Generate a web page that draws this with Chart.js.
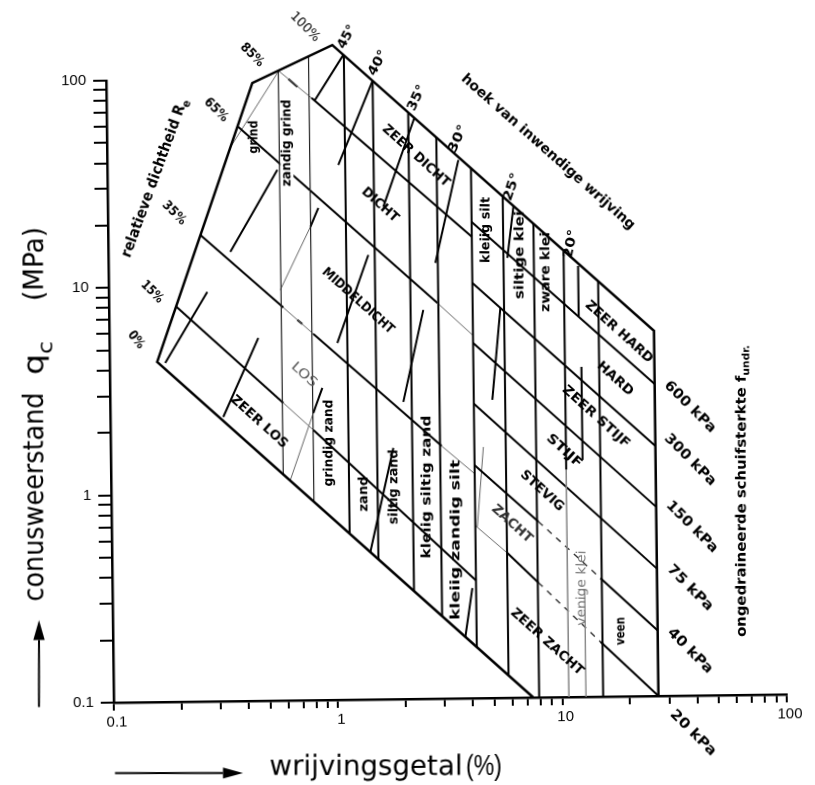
<!DOCTYPE html>
<html>
<head>
<meta charset="utf-8">
<script src="https://cdn.jsdelivr.net/npm/chart.js@4.4.1/dist/chart.umd.min.js"></script>
<style>
  html, body { margin: 0; padding: 0; background: #fff; overflow: hidden; width: 815px; height: 785px; }
  #wrap { position: absolute; left: 0; top: 0; width: 815px; height: 785px;
          transform: rotate(-0.7deg); transform-origin: 407.5px 392.5px; }
  canvas { display: block; }
</style>
</head>
<body>
<div id="wrap"><canvas id="c" width="815" height="785"></canvas></div>
<script>
// Axis ticks (friction ratio Rf in %, cone resistance qc in MPa)
const xTicks = [0.1,0.2,0.3,0.4,0.5,0.6,0.7,0.8,0.9,1,2,3,4,5,6,7,8,9,10,20,30,40,50,60,70,80,90,100];
const yTicks = [0.1,0.2,0.3,0.4,0.5,0.6,0.7,0.8,0.9,1,2,3,4,5,6,7,8,9,10,20,30,40,50,60,70,80,90,100];
const labelledTicks = [0.1, 1, 10, 100];

// Outer boundary of the classification field, [Rf, qc]
const outline = [[7.42,0.1],[0.163,4.37],[0.448,95.6],[1.023,144],[26.8,5.77],[26.8,0.1]];

// Soil-type boundaries (constant Rf): position, qc at top, qc at bottom
const gravelRf = [0.586, 0.80];
const gravelTop = [108, 128];
const gravelBottom = [1.22, 0.91];
const soilRf = [1.15, 1.54, 2.21, 2.94, 4.18, 5.77, 7.88, 10.7, 15.2];
const soilTop = [128.5, 96.4, 67.5, 51.0, 36.1, 26.2, 19.3, 14.3, 10.1];
const soilBottom = [0.633, 0.474, 0.331, 0.250, 0.177, 0.128, 0.1, 1.25, 0.1];
const peatRf = [10.7, 12.75];
const peatTop = [1.25, 0.33];
const peatBottom = [0.1, 0.1];

// Relative density lines (sand side)
const density85 = [[0.821,80.2],[4.18,16.8]];
const density65 = [[0.382,59.4],[2.91,8.10]];
const density35 = [[0.258,17.8],[0.599,7.86]];
const density35b = [[0.812,5.845],[2.986,1.654]];
const density15 = [[0.2,8.03],[0.592,2.724]];
const density15b = [[0.802,2.01],[4.18,0.37]];
const densityFaint = [
  [[0.59,108.5],[0.821,80.2]],
  [[0.599,7.86],[0.812,5.845]],
  [[0.592,2.724],[0.802,2.01]],
  [[2.91,8.10],[4.18,5.62]],
  [[2.986,1.654],[4.18,1.21]]
];
const densityDashes = [[[0.649,99.5],[0.711,90.9]], [[0.69,6.835],[0.726,6.534]]];

// Undrained shear strength lines (clay side)
const su600 = [[4.18,19.8],[26.8,3.2]];
const su300 = [[4.18,10.07],[26.8,1.606]];
const su150 = [[4.18,5.17],[26.8,0.817]];
const su75 = [[4.18,2.63],[26.8,0.4115]];
const su40 = [[4.18,1.33],[7.99,0.705]];
const su40b = [[15.0,0.373],[26.8,0.207]];
const su20 = [[5.79,0.499],[7.93,0.358]];
const su20b = [[14.87,0.184],[26.8,0.1]];
const suBroken = [[[7.99,0.705],[15.0,0.373]], [[7.93,0.358],[14.87,0.184]]];
const suFaint = [[[4.18,0.68],[5.79,0.499]]];

// Angle of internal friction segments
const phiUpper = [
  [[1.144,128.9],[0.846,77.7]],
  [[1.54,96.4],[1.072,38.0]],
  [[2.352,63.4],[1.692,23.7]],
  [[3.677,39.5],[2.867,12.64]],
  [[6.43,23.3],[6.006,13.23]],
  [[12.4,12.0],[12.4,6.85]]
];
const phiMiddle = [
  [[0.573,36.3],[0.35,14.68]],
  [[0.8685,23.65],[0.798,19.17]],
  [[1.442,13.93],[1.038,5.265]],
  [[2.518,7.51],[2.028,2.71]],
  [[5.554,7.6],[5.058,2.738]],
  [[12.67,3.90],[12.67,1.39]]
];
const phiLower = [
  [[0.2749,9.44],[0.177,4.316]],
  [[0.4614,5.625],[0.319,2.35]],
  [[0.8845,3.20],[0.804,2.428]],
  [[1.82,1.628],[1.419,0.514]],
  [[4.024,0.34],[3.722,0.1975]]
];
const phiFaint = [
  [[0.798,19.17],[0.582,9.56]],
  [[0.804,2.428],[0.63,1.157]],
  [[4.585,1.626],[4.267,0.669]],
  [[0.586,108],[0.358,47.6]]
];

// ---------------------------------------------------------------------------
const TILT_DEG = 0.7;
const FAMILY = '"DejaVu Sans", sans-serif';
const PLAIN = '"Liberation Sans", Arial, sans-serif';
const INK = '#000';

function line(points, width, color, dash) {
  return {
    data: points.map(([x, y]) => ({ x, y })),
    showLine: true, fill: false, tension: 0, clip: false,
    borderColor: color || INK, borderWidth: width, borderDash: dash || [],
    borderCapStyle: 'butt', borderJoinStyle: 'miter',
    pointRadius: 0, pointHoverRadius: 0
  };
}
function verticals(rf, top, bottom, width, color) {
  return rf.map((r, i) => line([[r, top[i]], [r, bottom[i]]], width, color));
}

const datasets = [
  line(outline, 2.5),
  ...verticals(gravelRf, gravelTop, gravelBottom, 1.2, '#222'),
  ...verticals(soilRf, soilTop, soilBottom, 2),
  ...verticals(peatRf, peatTop, peatBottom, 1, '#888'),
  line(density85, 2), line(density65, 2), line(density35, 2), line(density35b, 2),
  line(density15, 2), line(density15b, 2),
  ...densityFaint.map(s => line(s, 1, '#666')),
  ...densityDashes.map(s => line(s, 2)),
  line(su600, 2), line(su300, 2), line(su150, 2), line(su75, 2),
  line(su40, 2), line(su40b, 2), line(su20, 2), line(su20b, 2),
  ...suBroken.map(s => line(s, 1.4, '#333', [6, 6])),
  ...suFaint.map(s => line(s, 1, '#666')),
  ...phiUpper.map(s => line(s, 2)),
  ...phiMiddle.map(s => line(s, 2)),
  ...phiLower.map(s => line(s, 2)),
  ...phiFaint.map(s => line(s, 1, '#666'))
];

// Lettering, placed in page pixels
const notes = [
  { t: 'relatieve dichtheid R', sub: 'e', x: 155, y: 178, a: -70, s: 15, w: 168 },
  { t: '0%', x: 136, y: 340, a: 52, w: 19 },
  { t: '15%', x: 152, y: 292, a: 45, w: 26 },
  { t: '35%', x: 174, y: 213, a: 45, w: 28 },
  { t: '65%', x: 216, y: 110, a: 45, w: 28 },
  { t: '85%', x: 252, y: 55, a: 45, w: 28 },
  { t: '100%', x: 305, y: 27, a: 45, w: 36, bold: false },
  { t: '45°', x: 347, y: 37, a: -62, w: 25 },
  { t: '40°', x: 378, y: 63, a: -62, w: 27 },
  { t: '35°', x: 417, y: 98, a: -65, w: 27 },
  { t: '30°', x: 458, y: 139, a: -66, w: 29 },
  { t: '25°', x: 512, y: 187, a: -72, w: 29 },
  { t: '20°', x: 571, y: 244, a: -78, w: 29 },
  { t: 'hoek van inwendige wrijving', x: 548, y: 152, a: 41.5, s: 14, w: 227 },
  { t: 'ZEER DICHT', x: 416, y: 156, a: 42, w: 86 },
  { t: 'DICHT', x: 380, y: 205, a: 42, w: 45 },
  { t: 'MIDDELDICHT', x: 358, y: 301, a: 42, w: 92 },
  { t: 'LOS', x: 304, y: 375, a: 42, w: 30, bold: false, c: '#555' },
  { t: 'ZEER LOS', x: 259, y: 422, a: 42, w: 72 },
  { t: 'grind', x: 254, y: 137, a: -90, w: 33 },
  { t: 'zandig grind', x: 287, y: 143, a: -90, w: 87, bg: true },
  { t: 'grindig zand', x: 329, y: 443, a: -90, w: 87 },
  { t: 'zand', x: 364, y: 494, a: -90, w: 35 },
  { t: 'siltig zand', x: 394, y: 487, a: -90, w: 75 },
  { t: 'kleiig siltig zand', x: 427, y: 487, a: -90, w: 143 },
  { t: 'kleiig zandig silt', x: 456, y: 540, a: -90, w: 160 },
  { t: 'kleiig silt', x: 486, y: 230, a: -90, w: 66 },
  { t: 'siltige klei', x: 520, y: 255, a: -90, w: 88 },
  { t: 'zware klei', x: 546, y: 272, a: -90, w: 80 },
  { t: 'ZEER HARD', x: 619, y: 332, a: 42, w: 86 },
  { t: 'HARD', x: 615, y: 379, a: 42, w: 44 },
  { t: 'ZEER STIJF', x: 596, y: 417, a: 42, w: 86 },
  { t: 'STIJF', x: 564, y: 451, a: 42, w: 43 },
  { t: 'STEVIG', x: 542, y: 491, a: 42, w: 54 },
  { t: 'ZACHT', x: 512, y: 524, a: 42, w: 50, c: '#333' },
  { t: 'ZEER ZACHT', x: 547, y: 642, a: 42, w: 93 },
  { t: 'venige klei', x: 582, y: 588, a: -90, w: 75, bold: false, c: '#777' },
  { t: 'veen', x: 621, y: 631, a: -90, w: 28 },
  { t: '600 kPa', x: 690, y: 407, a: 45, s: 14, w: 67 },
  { t: '300 kPa', x: 690, y: 460, a: 45, s: 14, w: 67 },
  { t: '150 kPa', x: 692, y: 527, a: 45, s: 14, w: 67 },
  { t: '75 kPa', x: 690, y: 588, a: 45, s: 14, w: 59 },
  { t: '40 kPa', x: 690, y: 651, a: 45, s: 14, w: 58 },
  { t: '20 kPa', x: 693, y: 733, a: 45, s: 14, w: 59 },
  { t: 'ongedraineerde schuifsterkte f', sub: 'undr.', x: 742, y: 491, a: -90, s: 14, w: 292 },
  { t: 'conusweerstand', x: 43, y: 497, a: -90, s: 28, w: 209, bold: false, base: true },
  { t: 'q', sub: 'c', x: 43, y: 358, a: -90, s: 28, w: 34, bold: false, base: true },
  { t: '(MPa)', x: 43, y: 264, a: -90, s: 28, w: 74, bold: false, base: true },
  { t: 'wrijvingsgetal', x: 366, y: 775, a: 0, s: 28, w: 193, bold: false, base: true },
  { t: '(%)', x: 484, y: 775, a: 0, s: 29, w: 36, bold: false, base: true, f: PLAIN }
];

function pageToCanvas(px, py) {
  const r = TILT_DEG * Math.PI / 180, s = Math.sin(r), c = Math.cos(r);
  const cx = 407.5, cy = 392.5, dx = px - cx, dy = py - cy;
  return [cx + dx * c - dy * s, cy + dx * s + dy * c];
}

function drawNote(ctx, n) {
  const size = n.s || 13;
  const family = n.f || FAMILY;
  const weight = n.bold === false ? '' : 'bold ';
  const mainFont = weight + size + 'px ' + family;
  const subFont = weight + Math.round(size * 0.72) + 'px ' + family;
  ctx.font = mainFont;
  const w1 = ctx.measureText(n.t).width;
  let w2 = 0;
  if (n.sub) { ctx.font = subFont; w2 = ctx.measureText(n.sub).width; }
  const total = w1 + w2;
  const k = n.w ? Math.min(1.6, Math.max(0.45, n.w / total)) : 1;
  const [x, y] = pageToCanvas(n.x, n.y);
  ctx.save();
  ctx.translate(x, y);
  ctx.rotate(((n.a || 0) + TILT_DEG) * Math.PI / 180);
  ctx.scale(k, 1);
  ctx.textAlign = 'left';
  ctx.textBaseline = n.base ? 'alphabetic' : 'middle';
  if (n.bg) {
    ctx.fillStyle = '#fff';
    ctx.fillRect(-total / 2 - 2, -size * 0.5, total + 4, size);
  }
  ctx.fillStyle = n.c || INK;
  ctx.font = mainFont;
  ctx.fillText(n.t, -total / 2, 0);
  if (n.sub) {
    ctx.font = subFont;
    ctx.fillText(n.sub, -total / 2 + w1, size * 0.32);
  }
  ctx.restore();
}

function drawArrow(ctx, from, to, head, half) {
  const [x1, y1] = pageToCanvas(from[0], from[1]);
  const [x2, y2] = pageToCanvas(to[0], to[1]);
  const ang = Math.atan2(y2 - y1, x2 - x1);
  const bx = x2 - head * Math.cos(ang), by = y2 - head * Math.sin(ang);
  ctx.save();
  ctx.strokeStyle = INK; ctx.fillStyle = INK; ctx.lineWidth = 2;
  ctx.beginPath(); ctx.moveTo(x1, y1); ctx.lineTo(bx, by); ctx.stroke();
  ctx.beginPath();
  ctx.moveTo(x2, y2);
  ctx.lineTo(bx + half * Math.sin(ang), by - half * Math.cos(ang));
  ctx.lineTo(bx - half * Math.sin(ang), by + half * Math.cos(ang));
  ctx.closePath(); ctx.fill();
  ctx.restore();
}

const lettering = {
  id: 'lettering',
  afterDraw(chart) {
    const ctx = chart.ctx;
    ctx.save();
    notes.forEach(n => drawNote(ctx, n));
    drawArrow(ctx, [39, 707], [39, 620], 20, 5.7);
    drawArrow(ctx, [115, 773], [243, 773], 20, 5.5);
    ctx.restore();
  }
};

const tickFont = { family: PLAIN, size: 15 };
const tickLabel = v => labelledTicks.includes(v) ? String(v) : '';

new Chart(document.getElementById('c'), {
  type: 'scatter',
  data: { datasets },
  options: {
    responsive: false,
    animation: false,
    devicePixelRatio: 1,
    layout: { padding: { top: 77, right: 32, left: 0, bottom: 0 } },
    plugins: { legend: { display: false }, tooltip: { enabled: false } },
    scales: {
      x: {
        type: 'logarithmic', min: 0.1, max: 100,
        afterFit(scale) { scale.height = 86; },
        afterBuildTicks(scale) { scale.ticks = xTicks.map(v => ({ value: v })); },
        ticks: { autoSkip: false, maxRotation: 0, minRotation: 0, padding: 3, labelOffset: 3, color: INK, font: tickFont, callback: tickLabel },
        grid: { drawOnChartArea: false, drawTicks: true, tickLength: 8, color: INK, lineWidth: 2 },
        border: { display: true, color: INK, width: 2.5 }
      },
      y: {
        type: 'logarithmic', min: 0.1, max: 100,
        afterFit(scale) { scale.width = 110; },
        afterBuildTicks(scale) { scale.ticks = yTicks.map(v => ({ value: v })); },
        ticks: { autoSkip: false, padding: 7, color: INK, font: tickFont, callback: tickLabel },
        grid: { drawOnChartArea: false, drawTicks: true, tickLength: 13, color: INK, lineWidth: 2 },
        border: { display: true, color: INK, width: 2.5 }
      }
    }
  },
  plugins: [lettering]
});
</script>
</body>
</html>
